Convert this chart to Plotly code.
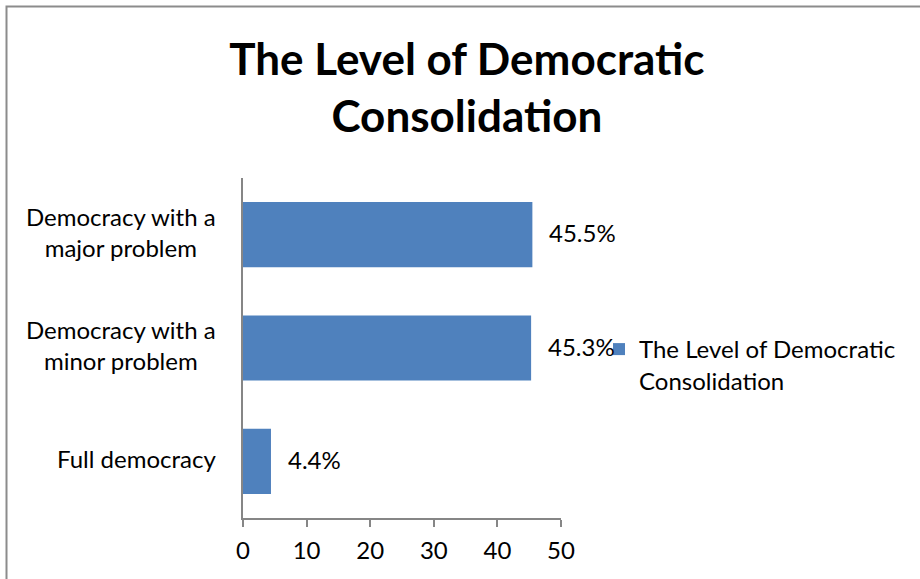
import plotly.graph_objects as go

categories = ["Full democracy", "Democracy with a minor problem", "Democracy with a major problem"]
category_labels = ["Full democracy", "Democracy with a<br>minor problem", "Democracy with a<br>major problem"]
values = [4.4, 45.3, 45.5]
series_name = "The Level of Democratic<br>Consolidation"
title_text = "The Level of Democratic<br>Consolidation"
x_ticks = [0, 10, 20, 30, 40, 50]

FONT = "Lato"
BAR_COLOR = "#4F81BD"

W, H = 920, 579
L, R, T, B = 243, 359, 178, 61
pw, ph = W - L - R, H - T - B

fig = go.Figure()
fig.add_trace(go.Bar(
    y=categories, x=values, orientation="h",
    marker=dict(color=BAR_COLOR, line=dict(width=0)),
    name=series_name, showlegend=True,
    width=0.575,
))

# data labels
for c, v in zip(categories, values):
    fig.add_annotation(x=v, y=c, xref="x", yref="y", text=f"{v}%",
                       showarrow=False, xanchor="left", xshift=15, yshift=2,
                       font=dict(family=FONT, size=24, color="#000"))
# category labels (centered multi-line)
for c, lab in zip(categories, category_labels):
    fig.add_annotation(x=0, y=c, xref="paper", yref="y", text=lab,
                       showarrow=False, xanchor="right", xshift=-25, yshift=3, align="center",
                       font=dict(family=FONT, size=24, color="#000"))

# outer chart border (extends past right/bottom edges)
fig.add_shape(type="rect", xref="paper", yref="paper",
              x0=(6.5 - L) / pw, x1=(W + 30 - L) / pw,
              y0=-(B + 30) / ph, y1=(518 - 6.5) / ph,
              line=dict(color="#8c8c8c", width=2), fillcolor="rgba(0,0,0,0)", layer="below")

fig.update_layout(
    width=W, height=H,
    margin=dict(l=L, r=R, t=T, b=B, autoexpand=False),
    paper_bgcolor="white", plot_bgcolor="white",
    title=dict(text=title_text, x=0.5075, xanchor="center", y=1 - 75 / H, yanchor="middle",
               font=dict(family=FONT, size=44, color="#000", weight="bold")),
    xaxis=dict(range=[0, 50], tickvals=x_ticks, showgrid=False, zeroline=False,
               showline=True, linecolor="#868686", linewidth=2,
               ticks="outside", ticklen=7, tickwidth=2, tickcolor="#868686",
               tickfont=dict(family=FONT, size=24, color="#000"), ticklabelstandoff=3),
    yaxis=dict(categoryorder="array", categoryarray=categories, showgrid=False, zeroline=False,
               showline=True, linecolor="#868686", linewidth=2, showticklabels=False, ticks=""),
    legend=dict(x=(599 - L) / pw, xanchor="left", y=(518 - 365) / ph, yanchor="middle",
                valign="top",
                font=dict(family=FONT, size=24, color="#000"), bgcolor="rgba(0,0,0,0)"),
    font=dict(family=FONT),
)

fig.write_html("out.html", config={"displayModeBar": False},
               post_script="document.body.style.margin='0';")
